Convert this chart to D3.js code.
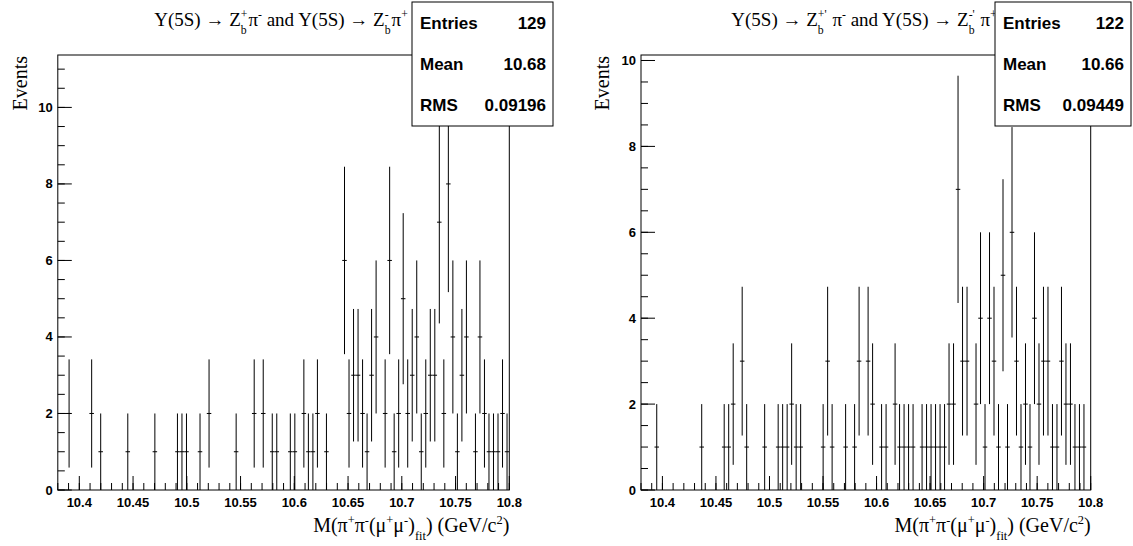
<!DOCTYPE html>
<html>
<head>
<meta charset="utf-8">
<script src="https://cdn.jsdelivr.net/npm/d3@7"></script>
<style>
  html, body { margin: 0; padding: 0; background: #fff; }
  svg { display: block; }
  text { fill: #000; }
</style>
</head>
<body>
<svg id="chart" width="1133" height="546"></svg>
<script>
// ---------------- data ----------------
const binLow = 10.38;
const binHigh = 10.80;
const nBins = 100;

// bin contents (100 bins from 10.38 to 10.80)
const countsLeft = [
  0,0,2,0,0,0,0,2,0,1,
  0,0,0,0,0,1,0,0,0,0,
  0,1,0,0,0,0,1,1,1,0,
  0,1,0,2,0,0,0,0,0,1,
  0,0,0,2,0,2,0,1,1,0,
  0,1,1,0,2,1,1,2,0,1,
  0,0,0,6,2,3,3,2,1,3,
  4,0,2,6,1,2,5,2,3,4,
  1,2,3,3,7,2,8,4,1,3,
  4,0,1,4,2,1,1,1,2,1
];
const countsRight = [
  0,0,0,1,0,0,0,0,0,0,
  0,0,0,1,0,0,0,0,1,1,
  2,0,3,1,0,0,0,1,0,0,
  1,1,1,2,1,1,0,0,0,0,
  1,3,1,0,0,1,0,1,3,0,
  3,2,0,1,1,0,2,1,1,1,
  1,0,1,1,1,1,1,1,2,2,
  7,3,3,0,2,4,1,4,3,1,
  5,1,6,3,1,2,1,4,2,3,
  3,1,1,3,2,2,1,1,1,0
];

const xTickValues = [10.4, 10.45, 10.5, 10.55, 10.6, 10.65, 10.7, 10.75, 10.8];
const xTickLabels = ["10.4", "10.45", "10.5", "10.55", "10.6", "10.65", "10.7", "10.75", "10.8"];
const yTickValues = [0, 2, 4, 6, 8, 10];
const yTickLabels = ["0", "2", "4", "6", "8", "10"];

const statsLabels = ["Entries", "Mean", "RMS"];
const statsLeft = ["129", "10.68", "0.09196"];
const statsRight = ["122", "10.66", "0.09449"];

// ---------------- layout ----------------
const SERIF = "'Liberation Serif', 'Times New Roman', serif";
const SANS = "'Liberation Sans', Arial, Helvetica, sans-serif";

const panels = [
  { counts: countsLeft, stats: statsLeft, prime: false,
    fx0: 57.8, fx1: 509.3, fy0: 55, fy1: 490,
    box: [412, 2, 553, 126], titleX: 281, ytitleX: 27 },
  { counts: countsRight, stats: statsRight, prime: true,
    fx0: 641, fx1: 1090.7, fy0: 55, fy1: 490,
    box: [995, 2, 1131, 126], titleX: 864, ytitleX: 609 }
];

const svg = d3.select("#chart");

function rich(g, x, y, parts, size, anchor) {
  const t = g.append("g").attr("font-family", SERIF);
  let cx = 0;
  parts.forEach(p => {
    if (p.s !== undefined) {
      const e = t.append("text").attr("x", cx).attr("y", 0).attr("font-size", size)
        .attr("xml:space", "preserve").style("white-space", "pre").text(p.s);
      cx += e.node().getComputedTextLength();
    } else {
      let w = 0;
      if (p.sup) {
        const e = t.append("text").attr("x", cx).attr("y", -size * 0.42).attr("font-size", size * 0.62).text(p.sup);
        w = Math.max(w, e.node().getComputedTextLength());
      }
      if (p.sub) {
        const e = t.append("text").attr("x", cx).attr("y", size * 0.42).attr("font-size", size * 0.62).text(p.sub);
        w = Math.max(w, e.node().getComputedTextLength());
      }
      cx += w + (p.pad || 0);
    }
  });
  const dx = anchor === "end" ? -cx : anchor === "middle" ? -cx / 2 : 0;
  t.attr("transform", `translate(${x + dx},${y})`);
}

panels.forEach((P, pi) => {
  const g = svg.append("g");
  const x = d3.scaleLinear().domain([binLow, binHigh]).range([P.fx0, P.fx1]);
  // ROOT-like maximum: largest (content + error), plus 5% margin
  const ymax = d3.max(P.counts, c => c + Math.sqrt(c)) * 1.05;
  const y = d3.scaleLinear().domain([0, ymax]).range([P.fy1, P.fy0]);
  const bw = (binHigh - binLow) / nBins;

  const clipId = "clip" + pi;
  svg.append("clipPath").attr("id", clipId).append("rect")
    .attr("x", P.fx0).attr("y", P.fy0).attr("width", P.fx1 - P.fx0).attr("height", P.fy1 - P.fy0);

  // frame
  g.append("rect").attr("x", P.fx0).attr("y", P.fy0)
    .attr("width", P.fx1 - P.fx0).attr("height", P.fy1 - P.fy0)
    .attr("fill", "none").attr("stroke", "#000").attr("stroke-width", 1);

  // x minor ticks (every 0.01)
  const xMinor = d3.range(0, 43).map(i => binLow + i * 0.01);
  g.append("g").selectAll("line").data(xMinor).join("line")
    .attr("x1", d => x(d)).attr("x2", d => x(d))
    .attr("y1", P.fy1).attr("y2", P.fy1 - 7)
    .attr("stroke", "#000").attr("stroke-width", 1);
  // x major ticks + labels
  g.append("g").selectAll("line").data(xTickValues).join("line")
    .attr("x1", d => x(d)).attr("x2", d => x(d))
    .attr("y1", P.fy1).attr("y2", P.fy1 - 14)
    .attr("stroke", "#000").attr("stroke-width", 1);
  g.append("g").selectAll("text").data(xTickValues).join("text")
    .attr("x", d => x(d)).attr("y", P.fy1 + 17)
    .attr("text-anchor", "middle").attr("font-family", SANS)
    .attr("font-weight", "bold").attr("font-size", 13)
    .text((d, i) => xTickLabels[i]);

  // y minor ticks (every 0.5)
  const yMinor = d3.range(0, Math.floor(ymax * 2) + 1).map(i => i * 0.5);
  g.append("g").selectAll("line").data(yMinor).join("line")
    .attr("x1", P.fx0).attr("x2", P.fx0 + 7)
    .attr("y1", d => y(d)).attr("y2", d => y(d))
    .attr("stroke", "#000").attr("stroke-width", 1);
  g.append("g").selectAll("line").data(yTickValues.filter(v => v <= ymax)).join("line")
    .attr("x1", P.fx0).attr("x2", P.fx0 + 14)
    .attr("y1", d => y(d)).attr("y2", d => y(d))
    .attr("stroke", "#000").attr("stroke-width", 1);
  g.append("g").selectAll("text").data(yTickValues.filter(v => v <= ymax)).join("text")
    .attr("x", P.fx0 - 5).attr("y", d => y(d) + 4.5)
    .attr("text-anchor", "end").attr("font-family", SANS)
    .attr("font-weight", "bold").attr("font-size", 13)
    .text(d => yTickLabels[yTickValues.indexOf(d)]);

  // error bars
  const bins = P.counts.map((c, i) => ({ i, c })).filter(d => d.c > 0);
  const eb = g.append("g").attr("clip-path", `url(#${clipId})`)
    .attr("stroke", "#000").attr("stroke-width", 1);
  eb.selectAll("line.v").data(bins).join("line").attr("class", "v")
    .attr("x1", d => x(binLow + (d.i + 0.5) * bw)).attr("x2", d => x(binLow + (d.i + 0.5) * bw))
    .attr("y1", d => y(d.c - Math.sqrt(d.c))).attr("y2", d => y(d.c + Math.sqrt(d.c)));
  eb.selectAll("line.h").data(bins).join("line").attr("class", "h")
    .attr("x1", d => x(binLow + d.i * bw)).attr("x2", d => x(binLow + (d.i + 1) * bw))
    .attr("y1", d => y(d.c)).attr("y2", d => y(d.c));

  // axis titles
  g.append("text").attr("transform", `translate(${P.ytitleX},${P.fy0 + 1}) rotate(-90)`)
    .attr("text-anchor", "end").attr("font-family", SERIF).attr("font-size", 20)
    .text("Events");

  rich(g, P.fx1, 532, [
    { s: "M(π" }, { sup: "+" }, { s: "π" }, { sup: "-" }, { s: "(μ" }, { sup: "+" }, { s: "μ" }, { sup: "-" },
    { s: ")" }, { sub: "fit" }, { s: ") (GeV/c" }, { sup: "2" }, { s: ")" }
  ], 20, "end");

  // title
  const pr = P.prime ? "'" : "";
  rich(g, P.titleX, 26, [
    { s: "Y(5S) → Z" }, { sup: "+" + pr, sub: "b", pad: 1 }, { s: (P.prime ? " " : "") + "π" }, { sup: "-" },
    { s: " and Y(5S) → Z" }, { sup: "-" + pr, sub: "b", pad: 1 }, { s: (P.prime ? " " : "") + "π" }, { sup: "+" }
  ], 19, "middle");

  // stats box
  const [bx0, by0, bx1, by1] = P.box;
  const sb = svg.append("g");
  sb.append("rect").attr("x", bx0).attr("y", by0).attr("width", bx1 - bx0).attr("height", by1 - by0)
    .attr("fill", "#fff").attr("stroke", "#000").attr("stroke-width", 1);
  const rowH = (by1 - by0) / 3;
  statsLabels.forEach((lab, i) => {
    const cy = by0 + rowH * (i + 0.5) + 6;
    sb.append("text").attr("x", bx0 + 8).attr("y", cy)
      .attr("font-family", SANS).attr("font-weight", "bold").attr("font-size", 17).text(lab);
    sb.append("text").attr("x", bx1 - 7).attr("y", cy).attr("text-anchor", "end")
      .attr("font-family", SANS).attr("font-weight", "bold").attr("font-size", 17).text(P.stats[i]);
  });
});
</script>
</body>
</html>
